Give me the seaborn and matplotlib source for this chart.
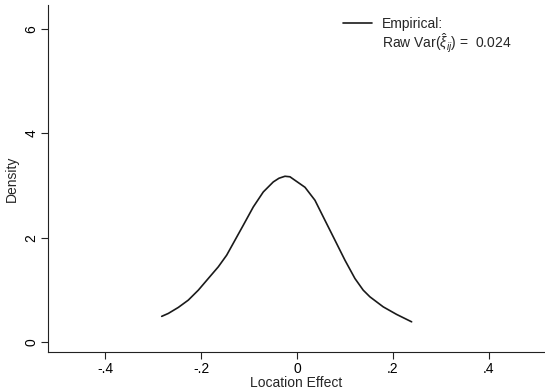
import matplotlib
matplotlib.use("Agg")
import matplotlib.pyplot as plt
from matplotlib.lines import Line2D
import seaborn as sns
import pandas as pd

# Kernel density of the estimated location effects
effect = [-0.2819, -0.2681, -0.2473, -0.2265, -0.2056, -0.1848, -0.1640,
          -0.1465, -0.1292, -0.1119, -0.0910, -0.0702, -0.0494, -0.0375,
          -0.0250, -0.0146, -0.0042, 0.0167, 0.0375, 0.0583, 0.0792, 0.1000,
          0.1208, 0.1381, 0.1521, 0.1798, 0.2077, 0.2390]
density = [0.494, 0.550, 0.665, 0.805, 0.996, 1.220, 1.443,
           1.667, 1.954, 2.241, 2.592, 2.879, 3.071, 3.142,
           3.180, 3.170, 3.103, 2.969, 2.720, 2.337, 1.954, 1.571,
           1.220, 0.996, 0.868, 0.676, 0.531, 0.389]

x_ticks = [-0.4, -0.2, 0.0, 0.2, 0.4]
x_tick_labels = ["-.4", "-.2", "0", ".2", ".4"]
y_ticks = [0, 2, 4, 6]
y_tick_labels = ["0", "2", "4", "6"]

raw_var = 0.024

sns.set_style("ticks")
plt.rcParams["font.family"] = ["Liberation Sans", "DejaVu Sans"]
plt.rcParams["mathtext.fontset"] = "custom"
plt.rcParams["mathtext.rm"] = "Liberation Sans"
plt.rcParams["mathtext.it"] = "Liberation Sans:italic"

df = pd.DataFrame({"effect": effect, "density": density})

fig = plt.figure(figsize=(5.45, 3.91), dpi=100)
ax = fig.add_axes([0.088, 0.0997, 0.912, 0.887])

sns.lineplot(data=df, x="effect", y="density", ax=ax, color="#1a1a1a",
             linewidth=1.2, legend=False)
for ln in ax.lines:
    ln.set_solid_joinstyle("round")

ax.set_xlim(-0.519, 0.517)
ax.set_ylim(-0.19, 6.46)
ax.set_xticks(x_ticks)
ax.set_xticklabels(x_tick_labels)
ax.set_yticks(y_ticks)
ax.set_yticklabels(y_tick_labels, rotation=90, va="center")
ax.tick_params(axis="both", length=5, width=0.8, labelsize=10, colors="#222222",
               labelcolor="black", pad=2)
ax.set_xlabel("Location Effect", fontsize=10, labelpad=0)
ax.set_ylabel("Density", fontsize=10, labelpad=4)

for side in ["top", "right"]:
    ax.spines[side].set_visible(False)
for side in ["left", "bottom"]:
    ax.spines[side].set_linewidth(0.8)
    ax.spines[side].set_color("#222222")

# Legend: the line key sits beside the first line of the two-line label
handles = [Line2D([], [], color="#1a1a1a", linewidth=1.2),
           Line2D([], [], color="none")]
labels = ["Empirical:", "Raw Var($\\hat{\\xi}_{ij}$) =  " + f"{raw_var:.3f}"]
ax.legend(handles, labels, loc="upper left", frameon=False, fontsize=10,
          handlelength=2.1, handletextpad=0.7, labelspacing=0.05,
          borderpad=0, borderaxespad=0, bbox_to_anchor=(0.594, 0.966))

fig.savefig("out.png", dpi=100)
